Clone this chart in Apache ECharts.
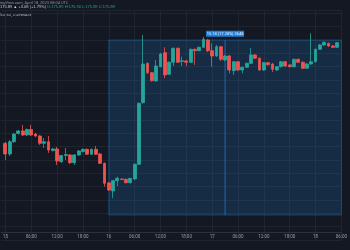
<!DOCTYPE html>
<html><head><meta charset="utf-8">
<script src="https://cdn.jsdelivr.net/npm/echarts@6/dist/echarts.min.js"></script>
<style>html,body{margin:0;padding:0;background:#141823;}#c{width:350px;height:250px;}</style>
</head><body><div id="c"></div>
<script>
// hourly categories, "day hour"
const categories = ['14 23'];
for (const d of ['15', '16', '17']) for (let h = 0; h < 24; h++) categories.push(d + ' ' + h);
for (let h = 0; h <= 6; h++) categories.push('18 ' + h);

// [open, close, low, high] per hour, starting 15th 00:00
const ohlc = [
 [94.25,93.45,93.00,94.35],[93.45,94.37,93.30,94.50],[94.37,94.95,94.28,95.03],[94.99,95.18,94.91,95.25],
 [95.18,94.88,94.80,95.63],[94.88,95.29,94.80,95.36],[95.29,94.88,94.80,95.63],[94.95,94.80,94.73,95.03],
 [94.80,94.25,94.13,94.88],[94.25,94.37,93.90,94.65],[94.37,93.75,93.53,94.80],[93.71,93.83,93.64,93.90],
 [93.83,92.93,92.63,93.98],[92.89,93.34,92.78,93.38],[93.34,93.41,93.00,93.90],[93.38,92.80,92.70,93.45],
 [92.80,93.38,92.63,93.45],[93.38,93.68,93.30,93.75],[93.64,93.80,93.56,93.86],[93.80,93.43,93.38,93.86],
 [93.43,93.80,93.38,93.86],[93.80,93.43,93.38,94.05],[93.45,92.75,92.70,93.53],[92.75,91.25,91.00,92.81],
 [91.28,90.75,90.68,91.35],[90.68,91.45,90.13,91.50],[91.45,91.63,91.05,91.75],[91.58,91.53,91.50,91.61],
 [91.55,91.30,91.24,91.61],[91.30,91.63,91.24,91.65],[91.58,92.68,91.50,92.74],[92.68,97.25,92.63,97.31],
 [97.30,100.20,97.24,102.38],[100.25,99.55,99.45,100.31],[99.55,98.95,98.89,99.60],[98.93,100.05,98.85,100.50],
 [100.00,100.95,99.94,101.03],[101.05,99.38,99.13,101.45],[99.43,100.33,99.38,100.39],[100.33,101.38,100.05,101.44],
 [101.38,100.33,100.28,101.44],[100.39,100.45,100.05,100.75],[100.43,100.33,100.05,100.50],[100.33,101.30,100.28,101.36],
 [101.30,101.20,100.13,101.36],[101.20,101.45,101.14,101.51],[101.45,102.05,101.40,102.23],[102.00,101.20,101.10,102.08],
 [101.20,100.80,100.00,101.75],[100.80,101.50,100.73,101.63],[101.50,100.55,100.43,101.55],[100.50,100.80,100.43,100.88],
 [100.80,99.75,99.50,100.88],[99.70,100.37,99.38,100.43],[100.37,99.75,99.68,100.43],[99.75,99.95,99.50,100.01],
 [99.95,100.25,99.90,100.31],[100.25,100.88,100.20,101.40],[100.88,100.63,100.58,100.95],[100.63,99.75,99.68,100.69],
 [99.75,100.30,99.68,100.35],[100.30,100.15,100.09,100.35],[100.20,99.80,99.60,100.28],[99.75,100.00,99.68,100.05],
 [100.00,100.37,99.94,100.43],[100.37,100.05,99.98,100.43],[100.13,100.00,99.94,100.20],[100.00,100.55,99.94,100.61],
 [100.55,100.33,100.28,100.61],[100.33,99.88,99.83,100.39],[99.88,100.20,99.83,100.28],[100.20,100.37,100.13,102.50],
 [100.37,101.30,100.31,101.36],[101.30,101.63,101.25,101.70],[101.63,101.83,101.55,101.89],[101.75,101.55,101.48,101.81],
 [101.55,101.45,101.40,101.63],[101.45,101.80,101.40,101.85]
];

const measureStart = '16 0';
const measureEnd = '18 6';
const measureLine = '17 3';
const measureHigh = 102;
const measureLow = 88.875;
const measureLabel = '15.18 (17.28%) 3648';

const headerLine1 = 'ingView.com, April 18, 2023 08:04 UTC';
const headerLine2a = '175.89 ▲ +3.08 (+1.79%) ';
const headerLine2b = 'O:175.89 H:175.90 L:175.89 C:175.89';
const headerLine3 = 'SD, 60, COINBASE';

const yMin = 87, yMax = 104.25, yStep = 1;

const up = '#26a69a', down = '#ef5350';
const isSix = (i, v) => Number(String(v).split(' ')[1]) % 6 === 0;
const measureBlue = '#2466b8';

const chart = echarts.init(document.getElementById('c'), null, {renderer: 'canvas'});
chart.setOption({
  backgroundColor: '#141823',
  animation: false,
  grid: {left: -2.8, right: -2.7, top: 10, bottom: 10},
  xAxis: {
    type: 'category', data: categories, boundaryGap: false, offset: -8,
    axisLine: {lineStyle: {color: '#2c303b', width: 1}},
    axisTick: {show: false},
    axisLabel: {
      interval: isSix, margin: 2, fontSize: 4.5, color: '#9a9da6', fontFamily: 'Roboto',
      formatter: v => { const p = v.split(' '); const h = Number(p[1]); return h === 0 ? p[0] : (h < 10 ? '0' + h : h) + ':00'; }
    },
    splitLine: {show: true, interval: isSix, lineStyle: {color: '#20242f', width: 1}}
  },
  yAxis: {
    type: 'value', min: yMin, max: yMax, interval: yStep, scale: true,
    axisLine: {show: false}, axisTick: {show: false}, axisLabel: {show: false},
    splitLine: {show: true, lineStyle: {color: '#20242f', width: 1}}
  },
  graphic: [
    {type: 'text', left: 0, top: 1.2, style: {text: headerLine1, fontSize: 4, fill: '#8e919a', fontFamily: 'Roboto'}},
    {type: 'text', left: 0, top: 5.2, style: {
      text: '{a|' + headerLine2a + '}{b|' + headerLine2b + '}', fontFamily: 'Roboto',
      rich: {a: {fontSize: 4, fill: '#c9ccd4'}, b: {fontSize: 4, fill: '#26a69a'}}}},
    {type: 'text', left: 0, top: 13, style: {text: headerLine3, fontSize: 4, fill: '#b0b3bb', fontFamily: 'Roboto'}}
  ],
  series: [{
    type: 'candlestick',
    data: ['-'].concat(ohlc),
    barWidth: 3.3,
    itemStyle: {color: up, color0: down, borderColor: up, borderColor0: down, borderWidth: 0.8},
    markArea: {
      silent: true,
      itemStyle: {color: 'rgba(33,150,243,0.16)', borderColor: 'rgba(33,150,243,0.3)', borderWidth: 1},
      data: [[{xAxis: measureStart, yAxis: measureHigh}, {xAxis: measureEnd, yAxis: measureLow}]]
    },
    markPoint: {
      silent: true,
      data: [{coord: [measureLine, measureHigh], symbol: 'rect', symbolSize: [38, 6], symbolOffset: [0, -6.3],
        itemStyle: {color: '#1f7fdc'},
        label: {show: true, position: 'inside', formatter: measureLabel, fontSize: 4, color: '#e8f1fb', fontFamily: 'Roboto'}}]
    }
  }, {
    type: 'line', silent: true, symbol: 'none', z: 1,
    data: [[measureLine, measureHigh], [measureLine, measureLow]],
    lineStyle: {color: measureBlue, width: 1},
    itemStyle: {color: measureBlue}
  }]
});
</script></body></html>
